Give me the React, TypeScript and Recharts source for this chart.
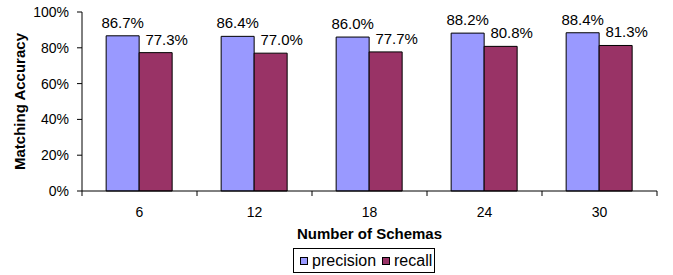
import React from "react";
import { BarChart, Bar, XAxis, YAxis, Legend, LabelList } from "recharts";

const categories = ["6", "12", "18", "24", "30"];
const precision = [86.7, 86.4, 86.0, 88.2, 88.4];
const recall = [77.3, 77.0, 77.7, 80.8, 81.3];
const yTicks = [0, 20, 40, 60, 80, 100];

const data = categories.map((c, i) => ({ name: c, precision: precision[i], recall: recall[i] }));

const W = 673;
const H = 275;
const M = { top: 12, right: 16, left: 0, bottom: 2 };
const Y_W = 82;
const BAND = (W - M.left - M.right - Y_W) / categories.length;

const FONT = "Liberation Sans, Arial, sans-serif";
const BLUE = "#9999FF";
const RED = "#993366";

const XTick = (props: any) => {
  const { x, y, payload, index } = props;
  const left = x - BAND / 2;
  return (
    <g>
      <line x1={left} y1={y} x2={left} y2={y + 5} stroke="#000" />
      {index === categories.length - 1 && (
        <line x1={x + BAND / 2} y1={y} x2={x + BAND / 2} y2={y + 5} stroke="#000" />
      )}
      <text x={x} y={y + 26} textAnchor="middle" fontSize={14} fontFamily={FONT} fill="#000">
        {payload.value}
      </text>
    </g>
  );
};

const makeLabel = (dx: number) => (props: any) => {
  const { x, y, width, value } = props;
  return (
    <text x={x + width / 2 + dx} y={y - 8} textAnchor="middle" fontSize={15} fontFamily={FONT} fill="#000">
      {Number(value).toFixed(1)}%
    </text>
  );
};

const YLabel = (props: any) => {
  const vb = props.viewBox;
  const cy = vb.y + vb.height / 2;
  const cx = 25;
  return (
    <text
      x={cx}
      y={cy}
      transform={`rotate(-90 ${cx} ${cy})`}
      textAnchor="middle"
      fontSize={15}
      fontWeight="bold"
      fontFamily={FONT}
      fill="#000"
    >
      Matching Accuracy
    </text>
  );
};

const LegendBox = () => (
  <div
    style={{
      boxSizing: "border-box",
      width: 142,
      height: 25,
      border: "1px solid #000",
      display: "flex",
      alignItems: "center",
      paddingLeft: 6,
      fontFamily: FONT,
      fontSize: 16,
      color: "#000",
      background: "#fff",
    }}
  >
    {[
      { name: "precision", color: BLUE },
      { name: "recall", color: RED },
    ].map((it, i) => (
      <span key={it.name} style={{ display: "flex", alignItems: "center", marginLeft: i ? 6 : 0 }}>
        <span
          style={{
            display: "inline-block",
            boxSizing: "border-box",
            width: 8,
            height: 8,
            border: "1px solid #000",
            background: it.color,
            marginRight: 4,
          }}
        />
        <span style={{ lineHeight: "16px" }}>{it.name}</span>
      </span>
    ))}
  </div>
);

export default function App() {
  return (
    <div style={{ width: W, height: H, background: "#fff" }}>
      <style>{"body{margin:0;background:#fff}"}</style>
      <BarChart
        width={W}
        height={H}
        data={data}
        margin={M}
        barCategoryGap="21%"
        barGap={0}
      >
        <XAxis
          dataKey="name"
          height={57}
          tickLine={false}
          tickSize={0}
          tickMargin={0}
          axisLine={{ stroke: "#000" }}
          tick={<XTick />}
          interval={0}
          label={{
            value: "Number of Schemas",
            position: "insideTop",
            offset: 37,
            style: { fontSize: 15, fontWeight: "bold", fontFamily: FONT, fill: "#000" },
          }}
        />
        <YAxis
          width={Y_W}
          domain={[0, 100]}
          ticks={yTicks}
          interval={0}
          tickFormatter={(v: number) => `${v}%`}
          tickSize={5}
          tickMargin={8}
          axisLine={{ stroke: "#000" }}
          tickLine={{ stroke: "#000" }}
          tick={{ fontSize: 14, fontFamily: FONT, fill: "#000" }}
          label={<YLabel />}
        />
        <Legend
          verticalAlign="bottom"
          height={25}
          content={<LegendBox />}
          wrapperStyle={{ left: 293, width: 142, bottom: 2 }}
        />
        <Bar dataKey="precision" fill={BLUE} stroke="#000" strokeWidth={1} isAnimationActive={false}>
          <LabelList dataKey="precision" content={makeLabel(0)} />
        </Bar>
        <Bar dataKey="recall" fill={RED} stroke="#000" strokeWidth={1} isAnimationActive={false}>
          <LabelList dataKey="recall" content={makeLabel(11)} />
        </Bar>
      </BarChart>
    </div>
  );
}
